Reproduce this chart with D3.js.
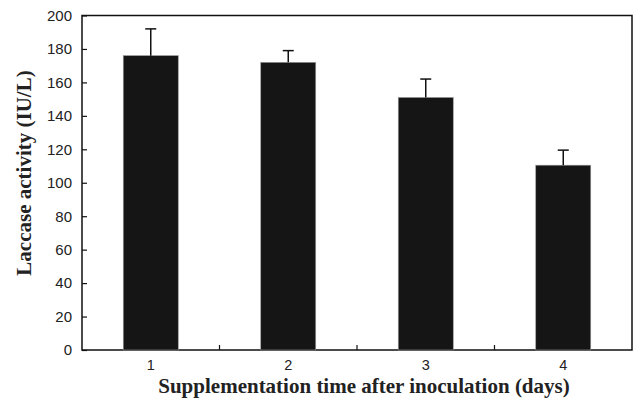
<!DOCTYPE html>
<html>
<head>
<meta charset="utf-8">
<script src="https://cdn.jsdelivr.net/npm/d3@7"></script>
<style>
  body { margin: 0; background: #fff; }
</style>
</head>
<body>
<svg id="chart" width="636" height="400"></svg>
<script>
// data
const days = ['1', '2', '3', '4']
const activity = [176, 172, 151, 110.5]
const errUp = [16, 7, 11, 9]
const yTicks = [0, 20, 40, 60, 80, 100, 120, 140, 160, 180, 200]

const svg = d3.select('#chart')
const mLeft = 82, mRight = 632, mTop = 15.5, mBottom = 350

const x = d3.scaleBand().domain(days).range([mLeft, mRight])
const y = d3.scaleLinear().domain([0, 200]).range([mBottom, mTop])
const barW = x.bandwidth() * 0.4

// frame
svg.append('rect')
  .attr('x', mLeft).attr('y', mTop)
  .attr('width', mRight - mLeft).attr('height', mBottom - mTop)
  .attr('fill', 'none').attr('stroke', '#111').attr('stroke-width', 1.5)

// bars
svg.append('g').selectAll('rect')
  .data(days)
  .enter()
  .append('rect')
  .attr('x', d => x(d) + (x.bandwidth() - barW) / 2)
  .attr('y', (d, i) => y(activity[i]))
  .attr('width', barW)
  .attr('height', (d, i) => y(0) - y(activity[i]))
  .attr('fill', '#151515')
  .attr('stroke', '#999').attr('stroke-width', 0.6)

// error bars (upper only)
const eb = svg.append('g').attr('stroke', '#111').attr('stroke-width', 1.5)
days.forEach((d, i) => {
  const cx = x(d) + x.bandwidth() / 2
  eb.append('line')
    .attr('x1', cx).attr('x2', cx)
    .attr('y1', y(activity[i])).attr('y2', y(activity[i] + errUp[i]))
  eb.append('line')
    .attr('x1', cx - 5.5).attr('x2', cx + 5.5)
    .attr('y1', y(activity[i] + errUp[i])).attr('y2', y(activity[i] + errUp[i]))
})

// y axis (ticks point inward)
const yAxis = d3.axisLeft(y).tickValues(yTicks).tickSize(-5).tickPadding(10)
const gy = svg.append('g').attr('transform', `translate(${mLeft},0)`).call(yAxis)
gy.select('.domain').remove()
gy.selectAll('line').attr('stroke', '#111').attr('stroke-width', 1.2)
gy.selectAll('text')
  .attr('font-family', 'Liberation Sans, Arial, sans-serif')
  .attr('font-size', 15).attr('fill', '#222')

// x axis: labels at centres, separator ticks between groups
svg.append('g').selectAll('text')
  .data(days)
  .enter()
  .append('text')
  .attr('x', d => x(d) + x.bandwidth() / 2)
  .attr('y', 370)
  .attr('text-anchor', 'middle')
  .attr('font-family', 'Liberation Sans, Arial, sans-serif')
  .attr('font-size', 14.5).attr('fill', '#222')
  .text(d => d)

svg.append('g').selectAll('line')
  .data(days.slice(1))
  .enter()
  .append('line')
  .attr('x1', d => x(d)).attr('x2', d => x(d))
  .attr('y1', mBottom).attr('y2', mBottom - 5)
  .attr('stroke', '#111').attr('stroke-width', 1.2)

// axis titles
svg.append('text')
  .attr('x', 364).attr('y', 393)
  .attr('text-anchor', 'middle')
  .attr('font-family', 'Liberation Serif, Times New Roman, serif')
  .attr('font-weight', 'bold').attr('font-size', 21).attr('fill', '#222')
  .text('Supplementation time after inoculation (days)')

svg.append('text')
  .attr('transform', 'translate(31,173) rotate(-90)')
  .attr('text-anchor', 'middle')
  .attr('font-family', 'Liberation Serif, Times New Roman, serif')
  .attr('font-weight', 'bold').attr('font-size', 21).attr('fill', '#222')
  .text('Laccase activity (IU/L)')
</script>
</body>
</html>
